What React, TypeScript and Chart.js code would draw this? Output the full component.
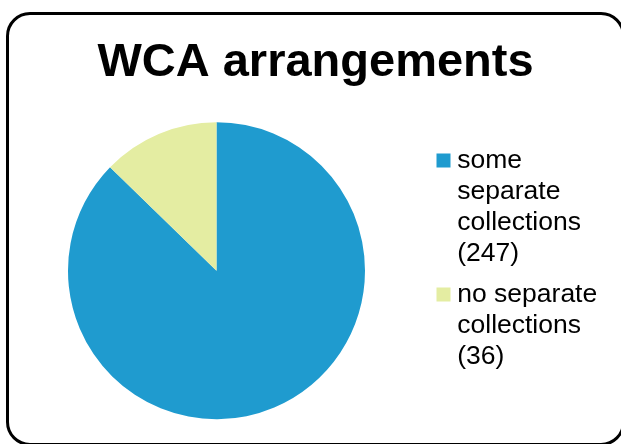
import React, { useEffect, useRef } from "react";
import { Chart, registerables } from "chart.js";

Chart.register(...registerables);

const chartTitle = "WCA arrangements";
const categories = ["some separate collections", "no separate collections"];
const values = [247, 36];
const legendLines = [
  ["some", "separate", "collections", "(247)"],
  ["no separate", "collections", "(36)"],
];
const colors = ["#1F9BCF", "#E4EDA2"];

export default function App() {
  const ref = useRef<HTMLCanvasElement>(null);

  useEffect(() => {
    if (!ref.current) return;
    const chart = new Chart(ref.current, {
      type: "pie",
      data: {
        labels: legendLines as any,
        datasets: [
          {
            data: values,
            backgroundColor: colors,
            borderWidth: 0,
          },
        ],
      },
      options: {
        responsive: false,
        maintainAspectRatio: false,
        animation: false,
        devicePixelRatio: 1,
        layout: { padding: { left: 0, right: 0, top: 0, bottom: 24.8 } },
        plugins: {
          title: {
            display: true,
            text: chartTitle,
            color: "#000",
            font: { family: "'Liberation Sans', Arial, sans-serif", size: 47, weight: "bold", lineHeight: 1.2 },
            padding: { top: 34.5, bottom: 31.3 },
          },
          // invisible spacer sharing the legend's column, giving it its width
          subtitle: {
            display: true,
            position: "right",
            fullSize: false,
            weight: 500,
            stack: "side",
            stackWeight: 0.0001,
            text: "",
            font: { size: 1, lineHeight: 1 },
            padding: { top: 197, bottom: 0 },
          } as any,
          legend: {
            display: true,
            position: "right",
            fullSize: false,
            stack: "side",
            stackWeight: 1,
            align: "start",
            title: {
              display: true,
              text: " ",
              font: { size: 12, lineHeight: "15px" },
              padding: 0,
            },
            labels: {
              usePointStyle: true,
              pointStyle: "rect",
              boxWidth: 1,
              boxHeight: 14,
              padding: 10,
              color: "#000",
              font: { family: "'Liberation Sans', Arial, sans-serif", size: 26.5, lineHeight: "31px" },
            },
          } as any,
          tooltip: {
            callbacks: {
              title: (items: any[]) => categories[items[0].dataIndex],
            },
          },
        },
      },
    });
    return () => chart.destroy();
  }, []);

  return (
    <div
      style={{
        position: "fixed",
        left: 0,
        top: 0,
        width: 621,
        height: 444,
        overflow: "hidden",
        background: "#fff",
      }}
    >
      <canvas
        ref={ref}
        width={631}
        height={444}
        style={{ position: "absolute", left: 0, top: 0, width: 631, height: 444, display: "block" }}
      />
      <div
        style={{
          position: "absolute",
          left: 6,
          top: 12,
          width: 619,
          height: 434,
          border: "3px solid #000",
          borderRadius: 24,
          boxSizing: "border-box",
          pointerEvents: "none",
        }}
      />
    </div>
  );
}
